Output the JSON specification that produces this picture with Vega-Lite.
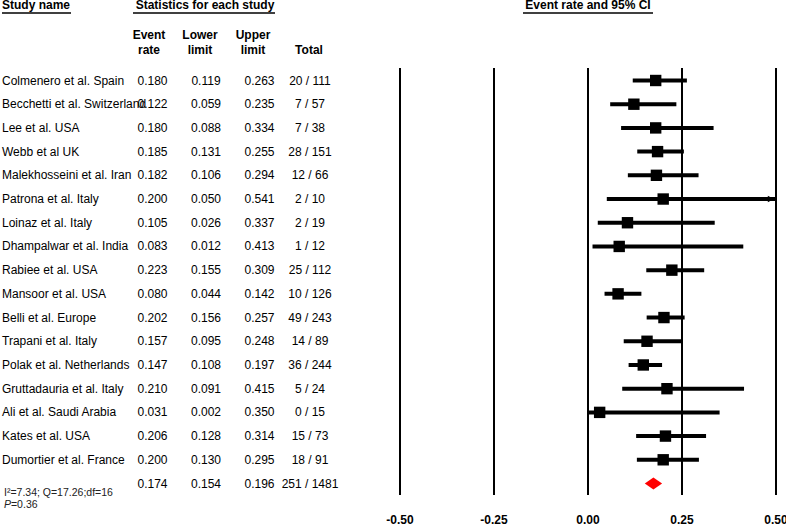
{
  "$schema": "https://vega.github.io/schema/vega-lite/v6.json",
  "width": 776,
  "height": 525,
  "autosize": {"type": "none"},
  "padding": {"left": 0, "top": 0, "right": 10, "bottom": 0},
  "background": "white",
  "data": {"values": [{}]},
  "config": {
    "view": {"stroke": null},
    "axis": {"disable": true},
    "text": {"font": "Liberation Sans", "fontSize": 12, "color": "#000"},
    "locale": {"number": {"decimal": ".", "thousands": ",", "grouping": [3], "currency": ["$", ""], "minus": "-"}}
  },
  "datasets": {
    "studies": [
      {"row": 1, "kind": "study", "name": "Colmenero et al. Spain", "rate": 0.180, "lower": 0.119, "upper": 0.263, "total": "20 / 111"},
      {"row": 2, "kind": "study", "name": "Becchetti et al. Switzerland", "rate": 0.122, "lower": 0.059, "upper": 0.235, "total": "7 / 57"},
      {"row": 3, "kind": "study", "name": "Lee et al. USA", "rate": 0.180, "lower": 0.088, "upper": 0.334, "total": "7 / 38"},
      {"row": 4, "kind": "study", "name": "Webb et al UK", "rate": 0.185, "lower": 0.131, "upper": 0.255, "total": "28 / 151"},
      {"row": 5, "kind": "study", "name": "Malekhosseini et al. Iran", "rate": 0.182, "lower": 0.106, "upper": 0.294, "total": "12 / 66"},
      {"row": 6, "kind": "study", "name": "Patrona et al. Italy", "rate": 0.200, "lower": 0.050, "upper": 0.541, "total": "2 / 10"},
      {"row": 7, "kind": "study", "name": "Loinaz et al. Italy", "rate": 0.105, "lower": 0.026, "upper": 0.337, "total": "2 / 19"},
      {"row": 8, "kind": "study", "name": "Dhampalwar et al. India", "rate": 0.083, "lower": 0.012, "upper": 0.413, "total": "1 / 12"},
      {"row": 9, "kind": "study", "name": "Rabiee et al. USA", "rate": 0.223, "lower": 0.155, "upper": 0.309, "total": "25 / 112"},
      {"row": 10, "kind": "study", "name": "Mansoor et al. USA", "rate": 0.080, "lower": 0.044, "upper": 0.142, "total": "10 / 126"},
      {"row": 11, "kind": "study", "name": "Belli et al. Europe", "rate": 0.202, "lower": 0.156, "upper": 0.257, "total": "49 / 243"},
      {"row": 12, "kind": "study", "name": "Trapani et al. Italy", "rate": 0.157, "lower": 0.095, "upper": 0.248, "total": "14 / 89"},
      {"row": 13, "kind": "study", "name": "Polak et al. Netherlands", "rate": 0.147, "lower": 0.108, "upper": 0.197, "total": "36 / 244"},
      {"row": 14, "kind": "study", "name": "Gruttadauria et al. Italy", "rate": 0.210, "lower": 0.091, "upper": 0.415, "total": "5 / 24"},
      {"row": 15, "kind": "study", "name": "Ali et al. Saudi Arabia", "rate": 0.031, "lower": 0.002, "upper": 0.350, "total": "0 / 15"},
      {"row": 16, "kind": "study", "name": "Kates et al. USA", "rate": 0.206, "lower": 0.128, "upper": 0.314, "total": "15 / 73"},
      {"row": 17, "kind": "study", "name": "Dumortier et al. France", "rate": 0.200, "lower": 0.130, "upper": 0.295, "total": "18 / 91"},
      {"row": 18, "kind": "summary", "name": "", "rate": 0.174, "lower": 0.154, "upper": 0.196, "total": "251 / 1481"}
    ],
    "ticks": [{"tick": -0.5}, {"tick": -0.25}, {"tick": 0}, {"tick": 0.25}, {"tick": 0.5}]
  },
  "layer": [
    {
      "data": {"name": "ticks"},
      "mark": {"type": "rule", "color": "#000", "strokeWidth": 2},
      "encoding": {
        "x": {"field": "tick", "type": "quantitative", "scale": {"domain": [-0.5, 0.5], "range": [400, 776], "zero": false, "nice": false}, "axis": null},
        "y": {"datum": 0.4726, "type": "quantitative", "scale": {"domain": [1, 18], "range": [80.5, 483.5], "zero": false, "nice": false}, "axis": null},
        "y2": {"datum": 18.489}
      }
    },
    {
      "data": {"name": "ticks"},
      "mark": {"type": "text", "fontWeight": "bold", "fontSize": 12, "align": "center", "baseline": "middle"},
      "encoding": {
        "x": {"field": "tick", "type": "quantitative"},
        "y": {"datum": 19.55},
        "text": {"field": "tick", "type": "quantitative", "format": ".2f"}
      }
    },
    {
      "data": {"name": "studies"},
      "transform": [{"filter": "datum.kind == 'study'"}],
      "mark": {"type": "rule", "color": "#000", "strokeWidth": 4, "clip": true},
      "encoding": {
        "x": {"field": "lower", "type": "quantitative"},
        "x2": {"field": "upper"},
        "y": {"field": "row", "type": "quantitative"}
      }
    },
    {
      "data": {"name": "studies"},
      "transform": [{"filter": "datum.kind == 'study'"}],
      "mark": {"type": "point", "shape": "square", "filled": true, "color": "#000", "opacity": 1, "size": 130},
      "encoding": {
        "x": {"field": "rate", "type": "quantitative"},
        "y": {"field": "row", "type": "quantitative"}
      }
    },
    {
      "data": {"name": "studies"},
      "transform": [{"filter": "datum.kind == 'study' && datum.upper > 0.5"}],
      "mark": {"type": "point", "shape": "M-2,-1L0,0L-2,1Z", "filled": true, "color": "#000", "opacity": 1, "size": 40},
      "encoding": {
        "x": {"datum": 0.495},
        "y": {"field": "row", "type": "quantitative"}
      }
    },
    {
      "data": {"name": "studies"},
      "transform": [{"filter": "datum.kind == 'summary'"}],
      "mark": {"type": "point", "shape": "M-1,0L0,-0.68L1,0L0,0.68Z", "filled": true, "color": "#ff0000", "opacity": 1, "size": 300},
      "encoding": {
        "x": {"field": "rate", "type": "quantitative"},
        "y": {"field": "row", "type": "quantitative"}
      }
    },
    {
      "data": {"name": "studies"},
      "mark": {"type": "text", "align": "left", "baseline": "middle"},
      "encoding": {
        "x": {"datum": -1.5585},
        "y": {"field": "row", "type": "quantitative"},
        "text": {"field": "name", "type": "nominal"}
      }
    },
    {
      "data": {"name": "studies"},
      "mark": {"type": "text", "align": "center", "baseline": "middle"},
      "encoding": {
        "x": {"datum": -1.1582},
        "y": {"field": "row", "type": "quantitative"},
        "text": {"field": "rate", "type": "quantitative", "format": ".3f"}
      }
    },
    {
      "data": {"name": "studies"},
      "mark": {"type": "text", "align": "center", "baseline": "middle"},
      "encoding": {
        "x": {"datum": -1.0160},
        "y": {"field": "row", "type": "quantitative"},
        "text": {"field": "lower", "type": "quantitative", "format": ".3f"}
      }
    },
    {
      "data": {"name": "studies"},
      "mark": {"type": "text", "align": "center", "baseline": "middle"},
      "encoding": {
        "x": {"datum": -0.8737},
        "y": {"field": "row", "type": "quantitative"},
        "text": {"field": "upper", "type": "quantitative", "format": ".3f"}
      }
    },
    {
      "data": {"name": "studies"},
      "mark": {"type": "text", "align": "center", "baseline": "middle"},
      "encoding": {
        "x": {"datum": -0.7394},
        "y": {"field": "row", "type": "quantitative"},
        "text": {"field": "total", "type": "nominal"}
      }
    },
    {
      "mark": {"type": "text", "align": "left", "baseline": "middle", "fontWeight": "bold"},
      "encoding": {"x": {"datum": -1.5585}, "y": {"datum": -2.173}, "text": {"value": "Study name"}}
    },
    {
      "mark": {"type": "text", "align": "center", "baseline": "middle", "fontWeight": "bold"},
      "encoding": {"x": {"datum": -1.0186}, "y": {"datum": -2.173}, "text": {"value": "Statistics for each study"}}
    },
    {
      "mark": {"type": "text", "align": "center", "baseline": "middle", "fontWeight": "bold"},
      "encoding": {"x": {"datum": 0}, "y": {"datum": -2.173}, "text": {"value": "Event rate and 95% CI"}}
    },
    {
      "mark": {"type": "rule", "color": "#000", "strokeWidth": 1.5},
      "encoding": {"x": {"datum": -1.5585}, "x2": {"datum": -1.375}, "y": {"datum": -1.848}}
    },
    {
      "mark": {"type": "rule", "color": "#000", "strokeWidth": 1.5},
      "encoding": {"x": {"datum": -1.2101}, "x2": {"datum": -0.8324}, "y": {"datum": -1.848}}
    },
    {
      "mark": {"type": "rule", "color": "#000", "strokeWidth": 1.5},
      "encoding": {"x": {"datum": -0.1729}, "x2": {"datum": 0.1729}, "y": {"datum": -1.848}}
    },
    {
      "mark": {"type": "text", "align": "center", "baseline": "middle", "fontWeight": "bold"},
      "encoding": {"x": {"datum": -1.1676}, "y": {"datum": -0.92}, "text": {"value": "Event"}}
    },
    {
      "mark": {"type": "text", "align": "center", "baseline": "middle", "fontWeight": "bold"},
      "encoding": {"x": {"datum": -1.1676}, "y": {"datum": -0.287}, "text": {"value": "rate"}}
    },
    {
      "mark": {"type": "text", "align": "center", "baseline": "middle", "fontWeight": "bold"},
      "encoding": {"x": {"datum": -1.0319}, "y": {"datum": -0.92}, "text": {"value": "Lower"}}
    },
    {
      "mark": {"type": "text", "align": "center", "baseline": "middle", "fontWeight": "bold"},
      "encoding": {"x": {"datum": -1.0319}, "y": {"datum": -0.287}, "text": {"value": "limit"}}
    },
    {
      "mark": {"type": "text", "align": "center", "baseline": "middle", "fontWeight": "bold"},
      "encoding": {"x": {"datum": -0.8910}, "y": {"datum": -0.92}, "text": {"value": "Upper"}}
    },
    {
      "mark": {"type": "text", "align": "center", "baseline": "middle", "fontWeight": "bold"},
      "encoding": {"x": {"datum": -0.8910}, "y": {"datum": -0.287}, "text": {"value": "limit"}}
    },
    {
      "mark": {"type": "text", "align": "center", "baseline": "middle", "fontWeight": "bold"},
      "encoding": {"x": {"datum": -0.7420}, "y": {"datum": -0.287}, "text": {"value": "Total"}}
    },
    {
      "mark": {"type": "text", "align": "left", "baseline": "middle", "fontSize": 10.5, "color": "#222"},
      "encoding": {"x": {"datum": -1.5532}, "y": {"datum": 18.405}, "text": {"value": "I²=7.34; Q=17.26;df=16"}}
    },
    {
      "mark": {"type": "text", "align": "left", "baseline": "middle", "fontSize": 10.5, "fontStyle": "italic", "color": "#222"},
      "encoding": {"x": {"datum": -1.5532}, "y": {"datum": 18.89}, "text": {"value": "P"}}
    },
    {
      "mark": {"type": "text", "align": "left", "baseline": "middle", "fontSize": 10.5, "color": "#222"},
      "encoding": {"x": {"datum": -1.5346}, "y": {"datum": 18.89}, "text": {"value": "=0.36"}}
    }
  ]
}
